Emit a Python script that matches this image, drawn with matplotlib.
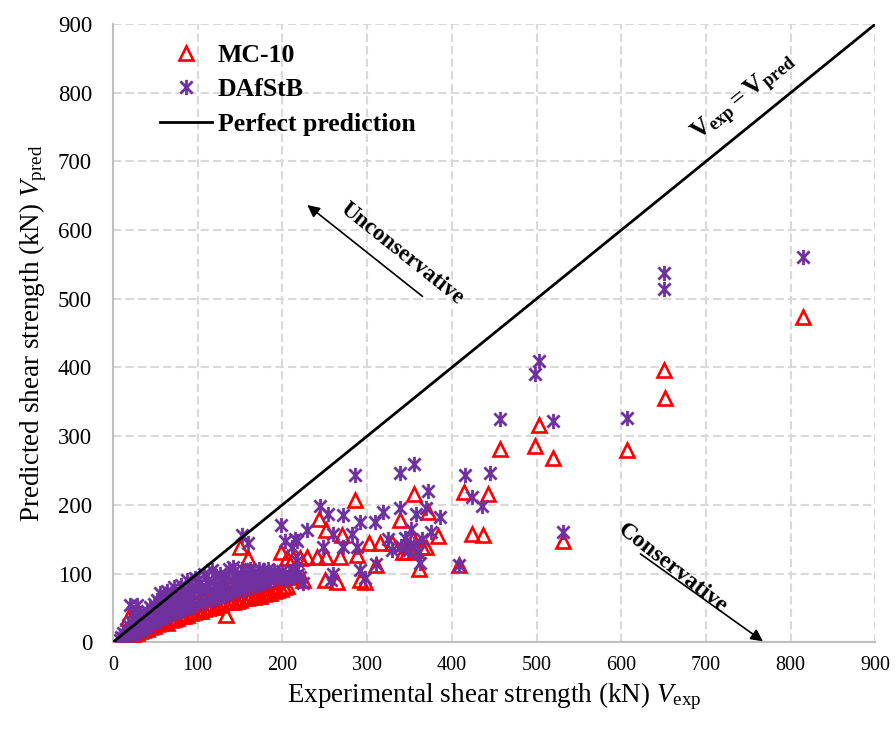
import matplotlib
matplotlib.use("Agg")
import matplotlib.pyplot as plt
import numpy as np
from matplotlib.path import Path

plt.rcParams['font.family'] = ['Liberation Serif', 'DejaVu Serif']
plt.rcParams['mathtext.fontset'] = 'custom'
plt.rcParams['mathtext.rm'] = 'Liberation Serif'
plt.rcParams['mathtext.it'] = 'Liberation Serif:italic'
plt.rcParams['mathtext.bf'] = 'Liberation Serif:bold'

# DAfStB predictions (V_exp, V_pred) in kN
dafstb_cluster = [
    (8, 4), (10, 8), (12, 6), (12, 14), (14, 10), (15, 20), (16, 4), (18, 14), (18, 25),
    (20, 54), (22, 10), (22, 18), (22, 30), (24, 44), (26, 14), (26, 22), (28, 54), (28, 34),
    (30, 16), (30, 24), (32, 42), (34, 18), (34, 28), (36, 38), (38, 22), (38, 30), (40, 46),
    (42, 24), (42, 34), (44, 52), (46, 28), (46, 38), (48, 56), (50, 30), (50, 42), (52, 62),
    (54, 34), (54, 48), (56, 72), (58, 36), (58, 52), (60, 64), (62, 38), (62, 56), (64, 74),
    (66, 40), (66, 58), (68, 68), (70, 42), (70, 62), (72, 80), (74, 44), (74, 58), (76, 70),
    (78, 46), (78, 64), (80, 84), (82, 48), (82, 66), (84, 76), (86, 50), (86, 68), (88, 90),
    (90, 52), (90, 72), (92, 82), (95, 54), (95, 70), (97, 94), (100, 56), (100, 76), (102, 86),
    (105, 58), (105, 72), (107, 100), (110, 60), (110, 80), (112, 90), (115, 62), (115, 76),
    (117, 105), (120, 64), (120, 84), (122, 96), (125, 66), (125, 80), (127, 100), (130, 68),
    (130, 88), (132, 96), (135, 70), (135, 84), (137, 106), (140, 72), (140, 90), (142, 110),
    (145, 74), (145, 86), (147, 100), (150, 76), (150, 92), (152, 156), (152, 106), (155, 78),
    (155, 88), (157, 100), (160, 144), (160, 80), (160, 94), (162, 106), (165, 82), (165, 96),
    (167, 102), (170, 84), (170, 92), (172, 106), (175, 86), (175, 98), (177, 104), (180, 88),
    (180, 96), (183, 106), (185, 90), (185, 100), (190, 92), (190, 104), (195, 94), (195, 100),
    (199, 170), (200, 96), (200, 104), (203, 148), (205, 92), (208, 100), (211, 139), (212, 96),
    (215, 105), (217, 148), (218, 100),
]
dafstb_mid = [
    (221, 95), (224, 86), (229, 163), (215, 151), (217, 119), (244, 199), (248, 139), (254, 187),
    (258, 90), (260, 100), (260, 158), (272, 185), (272, 139), (282, 158), (286, 243), (288, 139),
    (292, 175), (292, 105), (297, 93), (309, 175), (311, 114), (319, 190), (325, 150), (330, 135),
    (339, 195), (339, 246), (340, 140), (345, 152), (350, 135), (352, 165), (355, 260), (355, 143),
    (358, 187), (360, 132), (363, 115), (365, 150), (370, 195), (372, 220), (375, 160), (386, 182),
    (408, 112), (416, 243), (424, 212), (436, 199), (445, 246),
]
dafstb_high = [
    (457, 325), (498, 390), (503, 409), (520, 322), (531, 160), (607, 327),
    (650, 538), (651, 515), (815, 561),
]

# MC-10 predictions (V_exp, V_pred) in kN
mc10_cluster = [
    (8, 3), (10, 6), (14, 4), (16, 8), (18, 36), (20, 10), (20, 16), (24, 12), (28, 14), (30, 24),
    (32, 16), (36, 18), (40, 20), (40, 30), (44, 22), (48, 24), (50, 36), (52, 26), (56, 28),
    (60, 30), (60, 42), (64, 28), (68, 32), (70, 48), (72, 34), (76, 36), (80, 38), (80, 54),
    (84, 38), (88, 40), (90, 58), (92, 42), (96, 44), (100, 46), (100, 62), (104, 46), (108, 48),
    (110, 66), (112, 50), (116, 52), (120, 52), (120, 70), (124, 54), (128, 56), (130, 72),
    (132, 58), (134, 39), (138, 58), (140, 76), (142, 58), (146, 60), (150, 62), (150, 80),
    (150, 139), (154, 64), (158, 64), (160, 82), (160, 122), (162, 66), (166, 66), (170, 68),
    (170, 86), (174, 68), (178, 70), (180, 88), (182, 72), (186, 72), (190, 74), (190, 90),
    (194, 76), (198, 78), (199, 131), (200, 92), (202, 80), (205, 122), (206, 82), (210, 96),
    (213, 122), (217, 95),
]
mc10_mid = [
    (221, 122), (224, 90), (229, 124), (241, 124), (243, 180), (250, 90), (252, 124), (252, 163),
    (264, 88), (268, 124), (270, 156), (286, 207), (288, 127), (292, 90), (298, 88), (302, 144),
    (311, 112), (315, 144), (329, 144), (339, 178), (343, 131), (347, 131), (350, 140), (354, 150),
    (355, 216), (356, 135), (361, 107), (365, 138), (370, 139), (372, 190), (384, 154), (408, 112),
    (414, 219), (424, 158), (437, 156), (443, 216),
]
mc10_high = [
    (457, 282), (498, 285), (503, 317), (520, 268), (531, 148), (607, 280),
    (650, 397), (652, 356), (815, 473),
]

ticks = [0, 100, 200, 300, 400, 500, 600, 700, 800, 900]

dafstb = np.array(dafstb_cluster + dafstb_mid + dafstb_high)
mc10 = np.array(mc10_cluster + mc10_mid + mc10_high)

# Excel-like star marker: an x plus a vertical bar
star = Path([(0, -1), (0, 1), (-0.8, -0.8), (0.8, 0.8), (-0.8, 0.8), (0.8, -0.8)],
            [Path.MOVETO, Path.LINETO, Path.MOVETO, Path.LINETO, Path.MOVETO, Path.LINETO])

fig = plt.figure(figsize=(8.96, 7.29), dpi=100)
ax = fig.add_axes([0.126, 0.119, 0.851, 0.848])

ax.plot(mc10[:, 0], mc10[:, 1], linestyle='none', marker='^', ms=10.5, mfc='none',
        mec='#FF0000', mew=1.9, label='MC-10', zorder=3)
ax.plot(dafstb[:, 0], dafstb[:, 1], linestyle='none', marker=star, ms=11,
        mec='#7030A0', mew=2.0, label='DAfStB', zorder=4)
ax.plot([0, 900], [0, 900], color='black', lw=2, label='Perfect prediction', zorder=5)

ax.set_xlim(0, 900)
ax.set_ylim(0, 900)
ax.set_xticks(ticks)
ax.set_yticks(ticks)
ax.tick_params(length=0)
ax.tick_params(axis='x', pad=10, labelsize=14.5)
ax.tick_params(axis='y', pad=15, labelsize=16.5)
ax.grid(True, color='#D9D9D9', lw=1.5, linestyle=(0, (4, 2)))
ax.set_axisbelow(True)
for s in ['top', 'right']:
    ax.spines[s].set_visible(False)
for s in ['left', 'bottom']:
    ax.spines[s].set_color('#BFBFBF')
    ax.spines[s].set_linewidth(1.5)

ax.set_xlabel(r'Experimental shear strength (kN) $\mathit{V}_{\mathrm{exp}}$', fontsize=19.5, labelpad=4)
ax.set_ylabel(r'Predicted shear strength (kN) $\mathit{V}_{\mathrm{pred}}$', fontsize=19.5, labelpad=6)

leg = ax.legend(loc='upper left', bbox_to_anchor=(0.062, 0.968), frameon=False,
                prop={'weight': 'bold', 'size': 18.5}, handlelength=2.0, handletextpad=0.25,
                labelspacing=0.45, borderpad=0, borderaxespad=0)

# direction annotations
ax.annotate('', xy=(227, 639), xytext=(368, 501),
            arrowprops=dict(arrowstyle='-|>', color='black', lw=1.2, mutation_scale=18))
ax.text(341, 565, 'Unconservative', rotation=-38.5, rotation_mode='anchor',
        ha='center', va='center', fontsize=16.5, fontweight='bold')
ax.annotate('', xy=(770, -1), xytext=(620, 131), annotation_clip=False,
            arrowprops=dict(arrowstyle='-|>', color='black', lw=1.2, mutation_scale=18))
ax.text(661, 108, 'Conservative', rotation=-38, rotation_mode='anchor',
        ha='center', va='center', fontsize=17, fontweight='bold')
ax.text(746, 792, r'$\mathbf{V}_{\mathbf{exp}}\mathbf{=}\mathbf{V}_{\mathbf{pred}}$',
        rotation=39, rotation_mode='anchor', ha='center', va='center', fontsize=18.5)

fig.savefig('out.png', dpi=100)
